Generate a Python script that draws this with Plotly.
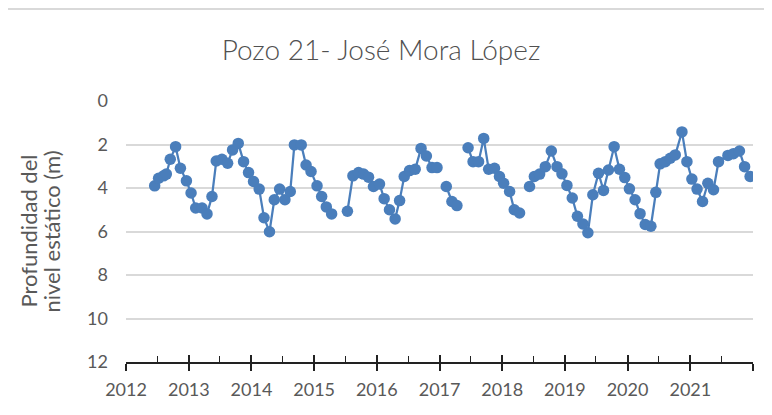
import plotly.graph_objects as go

# ---- data ----
dates = [
    "2012-06-16", "2012-07-09", "2012-08-07", "2012-08-23", "2012-09-15", "2012-10-16",
    "2012-11-13", "2012-12-18", "2013-01-14", "2013-02-10", "2013-03-19", "2013-04-17",
    "2013-05-16", "2013-06-10", "2013-07-13", "2013-08-15", "2013-09-13", "2013-10-16",
    "2013-11-16", "2013-12-15", "2014-01-13", "2014-02-15", "2014-03-15", "2014-04-16",
    "2014-05-14", "2014-06-14", "2014-07-15", "2014-08-15", "2014-09-08", "2014-10-18",
    "2014-11-15", "2014-12-14", "2015-01-18", "2015-02-14", "2015-03-13", "2015-04-13",
    "2015-05-30",
    "2015-07-14", "2015-08-15", "2015-09-17", "2015-10-16", "2015-11-14", "2015-12-13",
    "2016-01-17", "2016-02-13", "2016-03-15", "2016-04-17", "2016-05-13", "2016-06-09",
    "2016-07-10", "2016-08-12", "2016-09-15", "2016-10-16", "2016-11-18", "2016-12-17",
    "2017-01-15",
    "2017-02-09", "2017-03-14", "2017-04-12",
    "2017-05-15",
    "2017-06-16", "2017-07-15", "2017-08-16", "2017-09-15", "2017-10-14", "2017-11-17",
    "2017-12-16", "2018-01-09", "2018-02-13", "2018-03-12", "2018-04-12",
    "2018-05-10",
    "2018-06-09", "2018-07-07", "2018-08-07", "2018-09-09", "2018-10-14", "2018-11-16",
    "2018-12-15", "2019-01-13", "2019-02-13", "2019-03-15", "2019-04-16", "2019-05-15",
    "2019-06-13", "2019-07-16", "2019-08-14", "2019-09-12", "2019-10-15", "2019-11-15",
    "2019-12-16", "2020-01-12", "2020-02-14", "2020-03-14", "2020-04-13", "2020-05-16",
    "2020-06-14", "2020-07-09", "2020-08-08", "2020-09-06", "2020-10-05", "2020-11-13",
    "2020-12-12", "2021-01-10", "2021-02-09", "2021-03-13", "2021-04-13", "2021-05-16",
    "2021-06-14", "2021-08-08", "2021-09-09", "2021-10-14", "2021-11-13", "2021-12-15",
]
depth = [
    3.90, 3.55, 3.44, 3.36, 2.68, 2.10,
    3.09, 3.67, 4.23, 4.92, 4.92, 5.19,
    4.39, 2.76, 2.68, 2.86, 2.25, 1.95,
    2.79, 3.29, 3.70, 4.05, 5.37, 6.01,
    4.54, 4.05, 4.54, 4.16, 2.02, 2.02,
    2.94, 3.24, 3.90, 4.39, 4.87, 5.19,
    None,
    5.07, 3.44, 3.29, 3.36, 3.50, 3.93,
    3.82, 4.49, 5.00, 5.42, 4.58, 3.47,
    3.20, 3.14, 2.18, 2.53, 3.06, 3.06,
    None,
    3.93, 4.62, 4.81,
    None,
    2.15, 2.79, 2.79, 1.72, 3.14, 3.09,
    3.47, 3.78, 4.16, 5.00, 5.15,
    None,
    3.93, 3.47, 3.36, 3.02, 2.30, 3.02,
    3.35, 3.88, 4.46, 5.30, 5.65, 6.06,
    4.31, 3.32, 4.11, 3.17, 2.10, 3.14,
    3.52, 4.04, 4.54, 5.18, 5.68, 5.76,
    4.20, 2.89, 2.79, 2.63, 2.48, 1.42,
    2.79, 3.59, 4.05, 4.62, 3.78, 4.08,
    2.79, 2.50, 2.42, 2.30, 3.02, 3.47,
]
year_ticks = ["2012", "2013", "2014", "2015", "2016", "2017", "2018", "2019", "2020", "2021", "2022"]
year_labels = ["2012", "2013", "2014", "2015", "2016", "2017", "2018", "2019", "2020", "2021", ""]
half_ticks = [f"{y}-07-01" for y in range(2012, 2022)]
y_ticks = [0, 2, 4, 6, 8, 10, 12]

title_text = "Pozo 21- José Mora López"
ytitle_lines = ["Profundidad del", "nivel estático (m)"]

# ---- figure (page body has an 8px default margin, so the figure is 8px smaller) ----
OFF = 8
W, H = 772 - OFF, 415 - OFF
L, R, T, B = 118, 19, 93, 53
PW, PH = W - L - R, H - T - B

def px(x):
    # screen x -> paper coordinate
    return (x - OFF - L) / PW

def py(y):
    # screen y -> paper coordinate
    return (H - B - (y - OFF)) / PH

BLUE = "#4a7ebb"
GREY_TXT = "#595959"
AX = "#222222"
FONT = "Lato"

fig = go.Figure()
fig.add_trace(go.Scatter(
    x=dates, y=depth, mode="lines+markers",
    line=dict(color=BLUE, width=2.25),
    marker=dict(color=BLUE, size=11.5, line=dict(width=0)),
    connectgaps=False, showlegend=False, hoverinfo="x+y",
))
# empty helper trace so the overlay axis (upper half of major ticks) is drawn
fig.add_trace(go.Scatter(x=[], y=[], xaxis="x2", yaxis="y", showlegend=False))

tickvals = [f"{y}-01-01" for y in year_ticks]

annotations = [
    dict(text=line, textangle=-90, showarrow=False,
         xref="paper", yref="paper", x=px(xc), y=0.5,
         xanchor="center", yanchor="middle",
         font=dict(family=FONT, size=22, color=GREY_TXT))
    for line, xc in zip(ytitle_lines, [28, 51])
]

fig.update_layout(
    width=W, height=H,
    margin=dict(l=L, r=R, t=T, b=B, pad=0),
    paper_bgcolor="white", plot_bgcolor="white",
    font=dict(family=FONT, color=GREY_TXT),
    title=dict(text=title_text, x=(381 - OFF) / W, xanchor="center",
               y=1 - (50 - OFF) / H, yanchor="middle",
               font=dict(family=FONT, size=28, color="#505050", weight=300)),
    xaxis=dict(
        type="date", range=["2012-01-01", "2022-01-01"],
        tickmode="array", tickvals=tickvals, ticktext=year_labels,
        ticks="outside", ticklen=7, tickwidth=1.5, tickcolor=AX,
        showline=True, linecolor=AX, linewidth=1.5,
        showgrid=False, zeroline=False, ticklabelstandoff=4,
        tickfont=dict(family=FONT, size=18, color=GREY_TXT),
        minor=dict(ticks="inside", ticklen=6, tickwidth=1.3, tickcolor=AX,
                   tickmode="array", tickvals=half_ticks, showgrid=False),
    ),
    xaxis2=dict(
        type="date", range=["2012-01-01", "2022-01-01"], overlaying="x", anchor="y",
        side="bottom", tickmode="array", tickvals=tickvals,
        ticks="inside", ticklen=7, tickwidth=1.5, tickcolor=AX,
        showticklabels=False, showline=False, showgrid=False, zeroline=False,
    ),
    yaxis=dict(
        range=[12, 0], tickmode="array", tickvals=y_ticks,
        showgrid=True, gridcolor="#d9d9d9", gridwidth=1.5,
        zeroline=False, showline=False, ticks="",
        ticklabelstandoff=17,
        tickfont=dict(family=FONT, size=18, color=GREY_TXT),
    ),
    annotations=annotations,
    shapes=[
        dict(type="line", xref="paper", yref="paper",
             x0=px(OFF), x1=px(772), y0=py(9), y1=py(9),
             line=dict(color="#d9d9d9", width=2)),
        dict(type="path", xref="paper", yref="paper",
             path=f"M {px(492)},{py(8)} L {px(502)},{py(OFF)} L {px(558)},{py(OFF)} L {px(575)},{py(8)} Z",
             fillcolor="#dcdcdc", line=dict(width=0)),
        dict(type="path", xref="paper", yref="paper",
             path=f"M {px(632)},{py(OFF)} L {px(647)},{py(OFF)} L {px(663)},{py(8)} L {px(637)},{py(8)} Z",
             fillcolor="#dcdcdc", line=dict(width=0)),
    ],
)

fig.write_html("out.html")
